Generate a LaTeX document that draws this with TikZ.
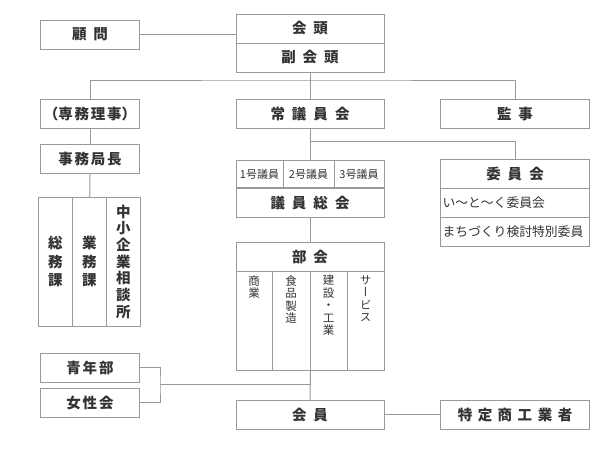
\documentclass[tikz,border=0pt]{standalone}
\usepackage{fontspec}
\newfontfamily\jp{Noto Sans CJK JP}
\newfontfamily\jptate[RawFeature=+vert]{Noto Sans CJK JP}
\definecolor{senhai}{HTML}{999999}
\definecolor{mojiiro}{HTML}{333333}
\newcommand\wg[1][7pt]{\hspace{#1}}
\newcommand\sg{\wg[1.8pt]}

\tikzset{
    waku/.style={draw=senhai, line width=1pt, inner sep=0pt, minimum height=29,
        text=mojiiro, font=\jp\bfseries\fontsize{14.5}{17}\selectfont},
    chiisai/.style={font=\jp\fontsize{11}{13}\selectfont},
    iinrow/.style={waku, font=\jp\fontsize{12.8}{15}\selectfont, text width=145,
        inner xsep=2pt, align=left},
    tate/.style={inner sep=0pt, text=mojiiro, align=center,
        font=\jptate\fontsize{11.5}{12.5}\selectfont},
    tsunagi/.style={draw=senhai, line width=1pt}
}

\begin{document}
\begin{tikzpicture}[x=1pt, y=-1pt]

    % --- 1. 列の位置 ---
    \pgfmathsetmacro{\xl}{90}
    \pgfmathsetmacro{\xc}{310}
    \pgfmathsetmacro{\xr}{515}
    \useasboundingbox (0,0) rectangle (615,450);

    % --- 2. 上段 ---
    \node[waku, minimum width=99] (komon) at (\xl,34.5) {顧\wg 問};
    \node[waku, minimum width=148] (kaito) at (\xc,28.5) {会\wg 頭};
    \node[waku, minimum width=148] (fukukaito) at (\xc,57.5) {副\wg 会\wg 頭};
    \draw[tsunagi] (komon.east) -- (komon.east -| kaito.west);

    % --- 3. 二段目 ---
    \node[waku, minimum width=99] (senmu) at (\xl,113.8) {（専\sg 務\sg 理\sg 事）};
    \node[waku, minimum width=148] (jogiin) at (\xc,113.8) {常\wg 議\wg 員\wg 会};
    \node[waku, minimum width=149] (kanji) at (\xr,113.8) {監\wg 事};
    \coordinate (bus1) at (\xc,80);
    \draw[tsunagi] (fukukaito.south) -- (jogiin.north);
    \draw[tsunagi] (senmu.north) |- (bus1) -| (kanji.north);

    % --- 4. 事務局 ---
    \node[waku, minimum width=99] (jimu) at (\xl,158.8) {事\sg 務\sg 局\sg 長};
    \draw[tsunagi] (senmu) -- (jimu);
    \foreach \n/\x/\p/\txt in {ka1/55.3/18.3/{総\\務\\課}, ka2/89.3/18.3/{業\\務\\課},
                               ka3/123.3/16.7/{中\\小\\企\\業\\相\\談\\所}} {
        \node[waku, minimum width=34, minimum height=128.7, align=center,
              font=\jp\bfseries\fontsize{14.5}{\p}\selectfont] (\n) at (\x,261.7) {\txt};
    }
    \draw[tsunagi] (jimu) -- (ka2);

    % --- 5. 議員 ---
    \foreach \n/\x/\w/\txt in {giin1/259.5/47/1号議員, giin2/308.5/51/2号議員, giin3/359/50/3号議員} {
        \node[waku, chiisai, minimum width=\w, minimum height=28] (\n) at (\x,174) {\txt};
    }
    \node[waku, minimum width=148, minimum height=29.3] (sokai) at (\xc,202.6) {議\wg 員\wg 総\wg 会};

    % --- 6. 委員会 ---
    \node[waku, minimum width=149] (iinkai) at (\xr,174) {委\wg 員\wg 会};
    \node[iinrow] (iin1) at (\xr,203) {い〜と〜く委員会};
    \node[iinrow, minimum height=28.5] (iin2) at (\xr,231.8) {まちづくり検討特別委員};
    \coordinate (bus2) at (\xc,141.5);
    \draw[tsunagi] (jogiin.south) -- (bus2) -| (iinkai.north);
    \draw[tsunagi] (bus2) -- (bus2 |- giin2.north);

    % --- 7. 部会 ---
    \node[waku, minimum width=148] (bukai) at (\xc,257.2) {部\wg 会};
    \draw[tsunagi] (sokai) -- (bukai);
    \foreach \n/\x/\w/\txt in {bk1/254/36/{商\\業}, bk2/291/38/{食\\品\\製\\造},
                               bk3/328.5/37/{建\\設\\・\\工\\業}, bk4/365.5/37/{サ\\ー\\ビ\\ス}} {
        \node[waku, minimum width=\w, minimum height=98.6] (\n) at (\x,321) {};
        \node[tate, anchor=north, yshift=-4] (\n t) at (\n.north) {\txt};
    }

    % --- 8. 会員・青年部・女性会 ---
    \node[waku, minimum width=99] (seinen) at (\xl,367.8) {青\sg 年\sg 部};
    \node[waku, minimum width=99] (josei) at (\xl,402.8) {女\sg 性\sg 会};
    \node[waku, minimum width=148] (kaiin) at (\xc,414.8) {会\wg 員};
    \node[waku, minimum width=149] (tokutei) at (\xr,414.8) {特\wg[5.5pt]定\wg[5.5pt]商\wg[5.5pt]工\wg[5.5pt]業\wg[5.5pt]者};
    \coordinate (kakko) at (160,384.7);
    \coordinate (bus3) at (\xc,384.7);
    \draw[tsunagi] (seinen.east) -| (kakko) |- (josei.east);
    \draw[tsunagi] (kakko) -- (bus3);
    \draw[tsunagi] (bk2.south east) -- (kaiin.north);
    \draw[tsunagi] (kaiin) -- (tokutei);

\end{tikzpicture}
\end{document}
